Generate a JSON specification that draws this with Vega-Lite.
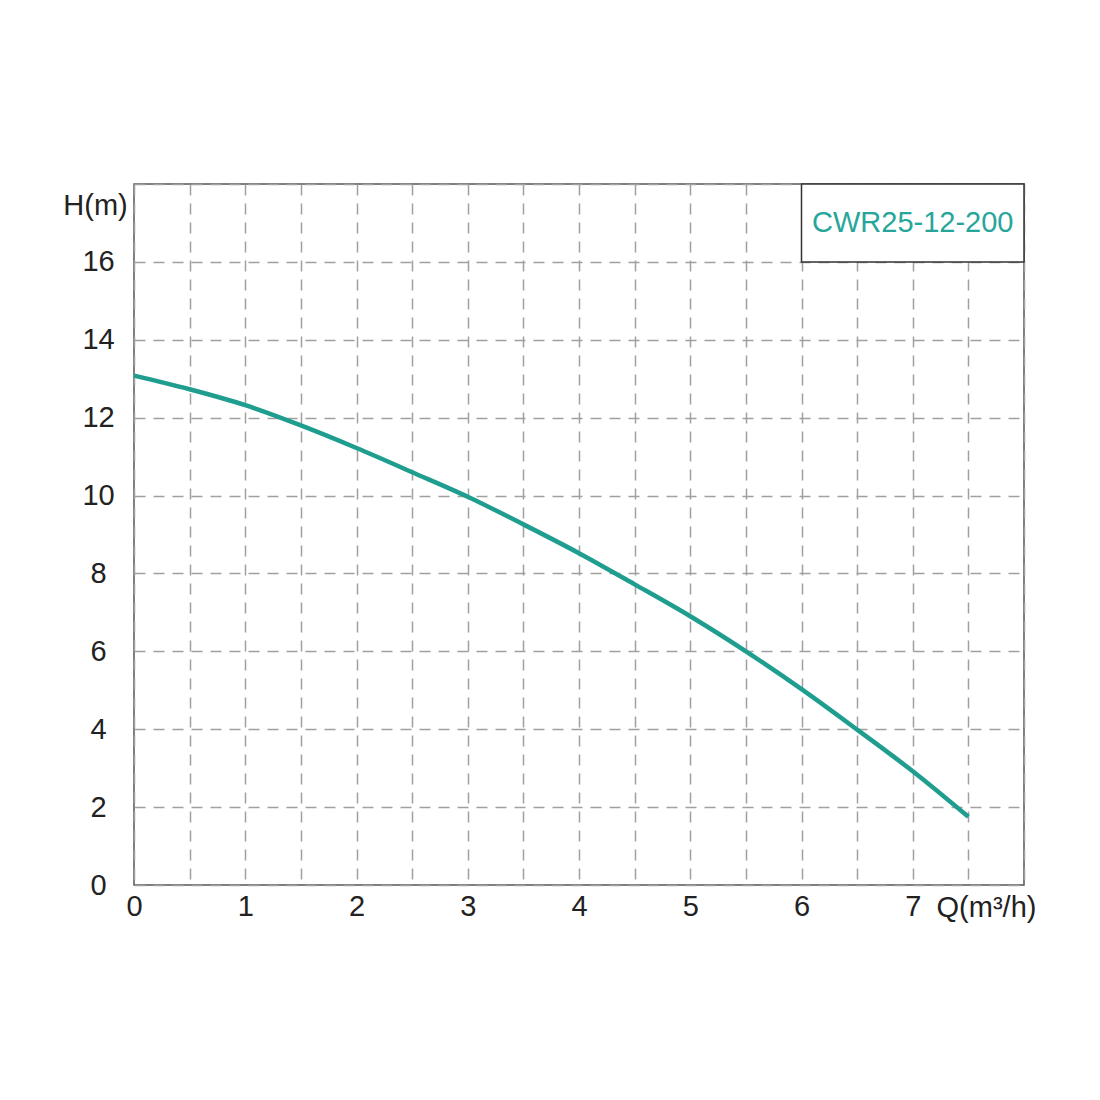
{
  "$schema": "https://vega.github.io/schema/vega-lite/v6.json",
  "autosize": "none",
  "width": 890,
  "height": 701,
  "padding": {"left": 134, "top": 184, "right": 76, "bottom": 215},
  "background": "white",
  "config": {
    "font": "Liberation Sans",
    "view": {"stroke": "#555555", "strokeWidth": 1.5},
    "axis": {
      "labelFont": "Liberation Sans",
      "titleFont": "Liberation Sans",
      "labelFontSize": 29,
      "titleFontSize": 29,
      "labelColor": "#222222",
      "titleColor": "#222222",
      "titleFontWeight": "normal",
      "domain": false,
      "ticks": false,
      "gridColor": "#a0a0a0",
      "gridWidth": 1.5,
      "gridDash": [11, 8]
    }
  },
  "datasets": {
    "curve": [
      {"q": 0, "h": 13.08},
      {"q": 0.5, "h": 12.73},
      {"q": 1, "h": 12.32},
      {"q": 1.5, "h": 11.8},
      {"q": 2, "h": 11.22},
      {"q": 2.5, "h": 10.6},
      {"q": 3, "h": 9.97},
      {"q": 3.5, "h": 9.26},
      {"q": 4, "h": 8.52},
      {"q": 4.5, "h": 7.72},
      {"q": 5, "h": 6.9},
      {"q": 5.5, "h": 6.0},
      {"q": 6, "h": 5.03},
      {"q": 6.5, "h": 3.99},
      {"q": 7, "h": 2.92},
      {"q": 7.5, "h": 1.75}
    ],
    "label": [
      {"q0": 6, "q1": 8, "h0": 16, "h1": 18, "qm": 7, "hm": 17, "name": "CWR25-12-200"}
    ]
  },
  "layer": [
    {
      "data": {"name": "curve"},
      "mark": {"type": "line", "color": "#1f9d8f", "strokeWidth": 4.5, "interpolate": "monotone"},
      "encoding": {
        "x": {
          "field": "q",
          "type": "quantitative",
          "scale": {"domain": [0, 8], "nice": false},
          "axis": {
            "values": [0, 0.5, 1, 1.5, 2, 2.5, 3, 3.5, 4, 4.5, 5, 5.5, 6, 6.5, 7, 7.5, 8],
            "labelExpr": "datum.value % 1 == 0 && datum.value < 8 ? format(datum.value, 'd') : ''",
            "labelPadding": 7,
            "labelFlush": false,
            "title": "Q(m³/h)",
            "titleAnchor": "start",
            "titleAlign": "center",
            "titleBaseline": "middle",
            "titleX": 852,
            "titleY": 22
          }
        },
        "y": {
          "field": "h",
          "type": "quantitative",
          "scale": {"domain": [0, 18], "nice": false},
          "axis": {
            "values": [0, 1, 2, 3, 4, 5, 6, 7, 8, 9, 10, 11, 12, 13, 14, 15, 16, 17, 18],
            "labelExpr": "datum.value % 2 == 0 && datum.value < 18 ? datum.label : ''",
            "labelAlign": "center",
            "labelPadding": 36,
            "labelFlush": false,
            "title": "H(m)",
            "titleAngle": 0,
            "titleAlign": "center",
            "titleBaseline": "middle",
            "titleX": -39,
            "titleY": 21
          }
        }
      }
    },
    {
      "data": {"name": "label"},
      "mark": {"type": "rect", "fill": "white", "stroke": "#333333", "strokeWidth": 1.5},
      "encoding": {
        "x": {"field": "q0", "type": "quantitative"},
        "x2": {"field": "q1"},
        "y": {"field": "h0", "type": "quantitative"},
        "y2": {"field": "h1"}
      }
    },
    {
      "data": {"name": "label"},
      "mark": {"type": "text", "fontSize": 29, "color": "#26a69a", "align": "center", "baseline": "middle"},
      "encoding": {
        "x": {"field": "qm", "type": "quantitative"},
        "y": {"field": "hm", "type": "quantitative"},
        "text": {"field": "name"}
      }
    }
  ]
}
